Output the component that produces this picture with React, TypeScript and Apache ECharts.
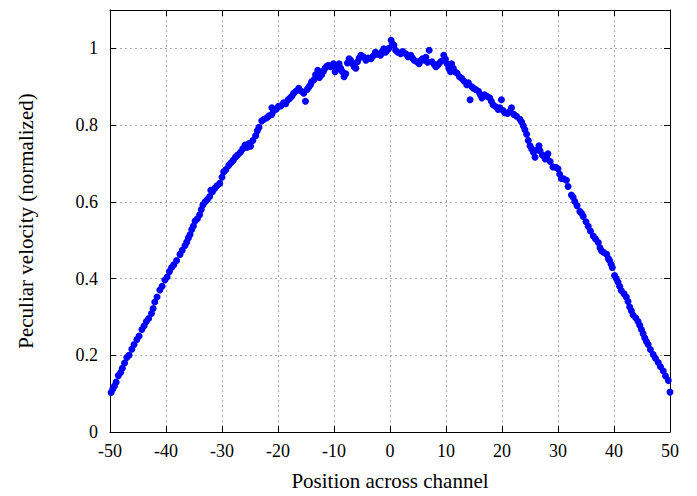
import React, { useEffect, useRef } from "react";
import * as echarts from "echarts";

// Position across the channel (left wall to centre)
const positionsLeft = [
  -49.8, -49.5, -49.2, -48.9, -48.5, -48.1, -47.8, -47.4, -47.0, -46.6,
  -46.1, -45.7, -45.2, -44.8, -44.3, -43.9, -43.5, -43.1, -42.6, -42.3,
  -42.0, -41.6, -41.1, -40.7, -40.2, -39.8, -39.4, -39.0, -38.6, -38.1,
  -37.5, -37.1, -36.6, -36.3, -36.0, -35.7, -35.4, -35.1, -34.8, -34.4,
  -34.0, -33.7, -33.4, -33.0, -32.6, -32.2, -32.0, -31.7, -31.3, -30.9,
  -30.4, -30.0, -29.7, -29.3, -28.8, -28.4, -28.0, -27.6, -27.2, -26.7,
  -26.3, -25.9, -25.5, -25.2, -24.9, -24.5, -24.0, -23.7, -23.4, -22.9,
  -22.5, -22.0, -21.6, -21.1, -21.1, -20.7, -20.3, -19.9, -19.5, -19.0,
  -18.6, -18.2, -17.8, -17.5, -17.2, -16.8, -16.3, -15.9, -15.4, -15.1,
  -14.8, -14.5, -14.2, -14.0, -13.6, -13.3, -13.0, -12.6, -12.2, -12.9,
  -11.9, -11.6, -11.3, -11.0, -10.6, -10.1, -9.8,
];
const velocitiesLeft = [
  0.103, 0.112, 0.120, 0.130, 0.147, 0.155, 0.166, 0.180, 0.194, 0.200,
  0.216, 0.228, 0.241, 0.250, 0.267, 0.277, 0.288, 0.296, 0.309, 0.322,
  0.339, 0.352, 0.370, 0.380, 0.396, 0.404, 0.418, 0.429, 0.436, 0.447,
  0.463, 0.474, 0.486, 0.495, 0.506, 0.515, 0.528, 0.537, 0.550, 0.556,
  0.566, 0.580, 0.592, 0.600, 0.606, 0.614, 0.630, 0.626, 0.635, 0.642,
  0.648, 0.664, 0.678, 0.684, 0.695, 0.702, 0.708, 0.716, 0.722, 0.729,
  0.738, 0.748, 0.742, 0.752, 0.745, 0.760, 0.772, 0.785, 0.794, 0.811,
  0.815, 0.819, 0.824, 0.828, 0.845, 0.838, 0.842, 0.849, 0.850, 0.858,
  0.856, 0.866, 0.871, 0.876, 0.883, 0.888, 0.896, 0.889, 0.883, 0.862,
  0.893, 0.899, 0.905, 0.913, 0.918, 0.931, 0.926, 0.924, 0.931, 0.943,
  0.940, 0.948, 0.953, 0.956, 0.952, 0.960, 0.939,
];

// Central part of the channel
const positionsCentre = [
  -9.7, -9.4, -9.1, -8.8, -8.5, -8.2, -7.9, -7.6, -7.3, -7.0,
  -6.7, -6.4, -6.1, -5.8, -5.5, -5.2, -4.8, -4.3, -3.9, -3.4,
  -3.0, -2.6, -2.2, -1.7, -1.4, -1.1, -0.8, -0.5, -0.2, 0.2,
  0.4, 0.7, 1.0, 1.4, 1.9, 2.3, 2.8, 3.2, 3.7, 4.0,
  4.3, 4.8, 5.2, 5.5, 5.8, 6.1, 6.4, 6.7, 7.0, 7.5,
  7.9, 8.2, 8.5, 8.7, 9.1, 9.6, 9.9, 10.2, 10.5, 10.8,
];
const velocitiesCentre = [
  0.952, 0.946, 0.960, 0.948, 0.939, 0.926, 0.934, 0.962, 0.973, 0.968,
  0.960, 0.952, 0.948, 0.965, 0.975, 0.982, 0.978, 0.969, 0.975, 0.973,
  0.980, 0.990, 0.985, 0.982, 0.992, 0.999, 0.990, 0.995, 1.000, 1.021,
  1.012, 1.008, 0.995, 0.990, 0.986, 0.992, 0.986, 0.978, 0.982, 0.975,
  0.969, 0.965, 0.960, 0.968, 0.973, 0.970, 0.977, 0.964, 0.995, 0.965,
  0.958, 0.952, 0.956, 0.960, 0.966, 0.982, 0.972, 0.960, 0.948, 0.939,
];

// Centre to the right wall
const positionsRight = [
  11.0, 11.3, 11.6, 12.0, 12.4, 12.8, 13.2, 13.7, 14.0, 14.3,
  14.6, 14.9, 15.3, 15.8, 16.1, 16.4, 16.9, 17.3, 17.8, 18.1,
  18.4, 18.9, 19.3, 19.6, 19.9, 20.2, 20.5, 21.0, 21.4, 21.7,
  22.1, 22.6, 23.2, 23.5, 23.8, 24.1, 24.4, 24.7, 25.0, 25.3,
  25.6, 25.9, 26.3, 26.6, 26.8, 27.2, 27.7, 28.0, 28.2, 28.6,
  29.1, 29.6, 30.0, 30.3, 30.6, 31.0, 31.5, 31.8, 32.4, 32.7,
  33.0, 33.4, 33.9, 34.2, 34.5, 35.0, 35.4, 35.8, 36.3, 36.7,
  37.2, 37.5, 37.8, 38.2, 38.7, 39.0, 39.2, 39.5, 39.7, 40.1,
  40.4, 40.7, 41.0, 41.3, 41.8, 42.2, 42.5, 42.8, 43.1, 43.4,
  43.9, 44.3, 44.6, 44.9, 45.2, 45.5, 45.8, 46.1, 46.5, 47.0,
  47.4, 47.9, 48.3, 48.8, 49.2, 49.7, 50.0,
];
const velocitiesRight = [
  0.960, 0.948, 0.939, 0.935, 0.926, 0.922, 0.915, 0.905, 0.910, 0.866,
  0.900, 0.896, 0.893, 0.888, 0.880, 0.871, 0.879, 0.875, 0.871, 0.862,
  0.853, 0.848, 0.841, 0.845, 0.866, 0.838, 0.832, 0.830, 0.836, 0.845,
  0.828, 0.823, 0.815, 0.808, 0.798, 0.788, 0.776, 0.760, 0.746, 0.738,
  0.729, 0.716, 0.735, 0.746, 0.733, 0.722, 0.712, 0.716, 0.725, 0.705,
  0.691, 0.690, 0.686, 0.672, 0.661, 0.660, 0.656, 0.640, 0.618, 0.612,
  0.601, 0.590, 0.575, 0.570, 0.562, 0.548, 0.536, 0.524, 0.511, 0.503,
  0.494, 0.480, 0.472, 0.468, 0.463, 0.452, 0.447, 0.437, 0.429, 0.408,
  0.400, 0.391, 0.380, 0.369, 0.360, 0.352, 0.340, 0.326, 0.316, 0.305,
  0.297, 0.288, 0.278, 0.267, 0.256, 0.245, 0.236, 0.228, 0.215, 0.202,
  0.192, 0.181, 0.170, 0.159, 0.146, 0.134, 0.104,
];

const xTitle = "Position across channel";
const yTitle = "Peculiar velocity (normalized)";

const FONT = "'Liberation Serif', 'DejaVu Serif', serif";
const GRID_LINE = { color: "#a8a8a8", width: 1, type: [2, 3] as number[] };

function zip(xs: number[], ys: number[]): number[][] {
  return xs.map((x, i) => [x, ys[i]]);
}

export default function App() {
  const ref = useRef<HTMLDivElement>(null);

  useEffect(() => {
    if (!ref.current) return;
    const chart = echarts.init(ref.current, null, { renderer: "svg" });

    const points = [
      ...zip(positionsLeft, velocitiesLeft),
      ...zip(positionsCentre, velocitiesCentre),
      ...zip(positionsRight, velocitiesRight),
    ];

    // Mirror axes that close the frame on the top and right sides
    const frameAxis = {
      axisLine: { show: true, onZero: false, lineStyle: { color: "#000", width: 1 } },
      axisTick: { show: true, inside: true, length: 6, lineStyle: { color: "#000" } },
      axisLabel: { show: false },
      splitLine: { show: false },
    };

    chart.setOption({
      animation: false,
      backgroundColor: "#fff",
      grid: { left: 110, right: 27, top: 10, bottom: 59 },
      xAxis: [
        {
          type: "value",
          position: "bottom",
          min: -50,
          max: 50,
          interval: 10,
          name: xTitle,
          nameLocation: "middle",
          nameGap: 38,
          nameTextStyle: { fontFamily: FONT, fontSize: 21, color: "#000" },
          axisLine: { show: true, onZero: false, lineStyle: { color: "#000", width: 1 } },
          axisTick: { show: true, inside: true, length: 6, lineStyle: { color: "#000" } },
          axisLabel: { fontFamily: FONT, fontSize: 18, color: "#000", margin: 10 },
          splitLine: { show: true, lineStyle: GRID_LINE },
        },
        {
          type: "value",
          position: "top",
          min: -50,
          max: 50,
          interval: 10,
          ...frameAxis,
        },
      ],
      yAxis: [
        {
          type: "value",
          position: "left",
          min: 0,
          max: 1.1,
          interval: 0.2,
          name: yTitle,
          nameLocation: "middle",
          nameGap: 74,
          nameTextStyle: { fontFamily: FONT, fontSize: 21, color: "#000" },
          axisLine: { show: true, onZero: false, lineStyle: { color: "#000", width: 1 } },
          axisTick: { show: true, inside: true, length: 6, lineStyle: { color: "#000" } },
          axisLabel: {
            fontFamily: FONT,
            fontSize: 18,
            color: "#000",
            margin: 12,
            formatter: (v: number) => (v > 1.05 ? "" : String(Math.round(v * 10) / 10)),
          },
          splitLine: { show: true, lineStyle: GRID_LINE },
        },
        {
          type: "value",
          position: "right",
          min: 0,
          max: 1.1,
          interval: 0.2,
          ...frameAxis,
        },
      ],
      series: [
        {
          type: "scatter",
          xAxisIndex: 0,
          yAxisIndex: 0,
          data: points,
          symbol: "circle",
          symbolSize: 7,
          itemStyle: { color: "#0000ff", opacity: 1 },
          emphasis: { disabled: true },
        },
      ],
    });

    return () => chart.dispose();
  }, []);

  return (
    <div
      ref={ref}
      style={{ position: "fixed", left: 0, top: 0, width: 697, height: 496 }}
    />
  );
}
